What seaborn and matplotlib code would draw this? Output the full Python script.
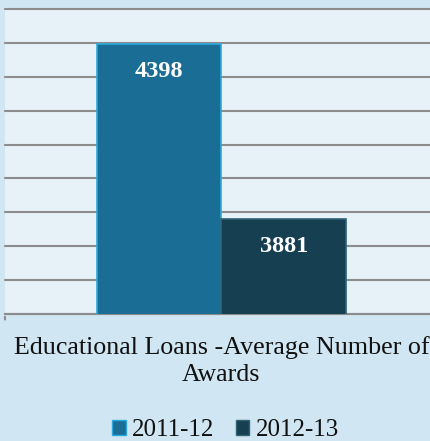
import matplotlib
matplotlib.use("Agg")
import matplotlib.pyplot as plt
import seaborn as sns
import pandas as pd
from matplotlib.patches import Patch

categories = ["Educational Loans -Average Number of\nAwards"]
years = ["2011-12", "2012-13"]
values = [4398, 3881]
yticks = [3600, 3700, 3800, 3900, 4000, 4100, 4200, 4300, 4400, 4500]

df = pd.DataFrame({"cat": categories * len(years), "year": years, "val": values})

sns.set_theme(style="white")
plt.rcParams["font.family"] = ["Liberation Serif", "DejaVu Serif"]

fig = plt.figure(figsize=(4.31, 4.41), dpi=100)
fig.patch.set_facecolor("#D0E6F2")
ax = fig.add_axes([5 / 431, 127 / 441, 433 / 431, 305 / 441])
ax.set_facecolor("#E6F1F8")

face = ["#1A6E96", "#173F52"]
edge = ["#2AA9DE", "#2E6275"]
sns.barplot(data=df, x="cat", y="val", hue="year", palette=face, width=0.574,
            ax=ax, legend=False, saturation=1, zorder=3)
for i, p in enumerate(ax.patches):
    p.set_edgecolor(edge[i % 2])
    p.set_linewidth(1.2)

ax.set_ylim(yticks[0], yticks[-1])
ax.set_xlim(-0.5, 0.5)
ax.set_yticks(yticks)
ax.set_yticklabels([])
ax.tick_params(axis="y", length=0)
ax.grid(axis="y", color="#8C8C8C", linewidth=1.5, zorder=0)
for gl in ax.get_ygridlines():
    gl.set_clip_on(False)
for s in ["top", "right", "left"]:
    ax.spines[s].set_visible(False)
ax.spines["bottom"].set_color("#8C8C8C")
ax.spines["bottom"].set_linewidth(1.5)
ax.set_xlabel("")
ax.set_ylabel("")
ax.set_xticks([0])
ax.set_xticklabels(categories, fontsize=18.7, color="#111111", linespacing=1.3)
ax.tick_params(axis="x", length=0, pad=16)
ax.annotate("", xy=(-0.5, yticks[0]), xytext=(0, -6), textcoords="offset points",
            xycoords="data", arrowprops=dict(arrowstyle="-", color="#8C8C8C", lw=1.5))

for i, p in enumerate(ax.patches):
    ax.annotate(str(values[i]), xy=(p.get_x() + p.get_width() / 2, values[i]),
                xytext=(0, -20), textcoords="offset points", ha="center", va="center",
                color="white", fontsize=17.5, fontweight="bold", zorder=5)

handles = [Patch(facecolor=face[i], edgecolor=edge[i]) for i in range(2)]
fig.legend(handles, years, loc="center", bbox_to_anchor=(0.523, 1 - 430 / 441), ncol=2,
           frameon=False, fontsize=18, handlelength=0.55, handleheight=0.55,
           handletextpad=0.25, columnspacing=0.85, labelcolor="#111111")

fig.savefig("out.png", dpi=100, facecolor=fig.get_facecolor())
